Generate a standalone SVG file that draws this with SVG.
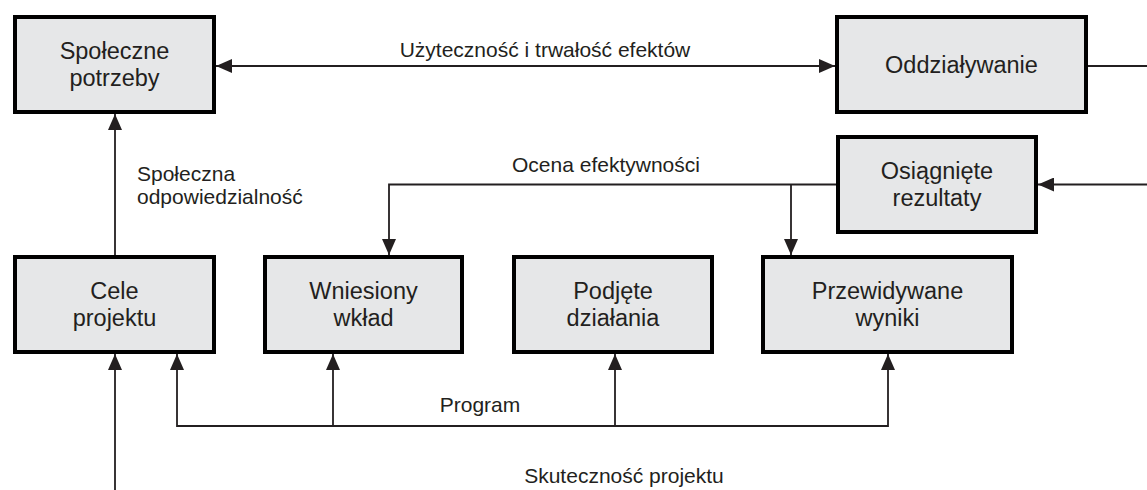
<svg xmlns="http://www.w3.org/2000/svg" width="1147" height="490" viewBox="0 0 1147 490">
<defs>
<marker id="arr" markerUnits="userSpaceOnUse" markerWidth="16" markerHeight="14" refX="16" refY="7" orient="auto-start-reverse">
<path d="M0,0 L16,7 L0,14 z" fill="#231f20"/>
</marker>
<style>
.box rect{fill:#e6e7e8;stroke:#000;stroke-width:4}
.box text{font-family:"Liberation Sans",Arial,sans-serif;font-size:23.5px;fill:#231f20;text-anchor:middle}
.lbl{font-family:"Liberation Sans",Arial,sans-serif;font-size:21px;fill:#231f20}
.c path{fill:none;stroke:#231f20;stroke-width:1.8}
</style>
</defs>
<rect width="1147" height="490" fill="#fff"/>
<g class="c" id="connectors">
<path d="M216,66 H835" marker-start="url(#arr)" marker-end="url(#arr)"/>
<path d="M1088,66 H1147"/>
<path d="M115,255 V114" marker-end="url(#arr)"/>
<path d="M115,490 V354" marker-end="url(#arr)"/>
<path d="M836,184.5 H389 V255" marker-end="url(#arr)"/>
<path d="M791,184.5 V255" marker-end="url(#arr)"/>
<path d="M1147,184.5 H1038" marker-end="url(#arr)"/>
<path d="M177,354 V426 H888 V354" marker-start="url(#arr)" marker-end="url(#arr)"/>
<path d="M333,426 V354" marker-end="url(#arr)"/>
<path d="M615,426 V354" marker-end="url(#arr)"/>
</g>
<g id="labels">
<text class="lbl" x="545" y="57" text-anchor="middle">Użyteczność i trwałość efektów</text>
<text class="lbl" x="606" y="172" text-anchor="middle">Ocena efektywności</text>
<text class="lbl" x="137" y="181">Społeczna</text>
<text class="lbl" x="137" y="204">odpowiedzialność</text>
<text class="lbl" x="480" y="412" text-anchor="middle">Program</text>
<text class="lbl" x="624" y="483" text-anchor="middle">Skuteczność projektu</text>
</g>
<g class="box" id="spoleczne-potrzeby">
<rect x="15" y="17" width="199" height="95"/>
<text x="114.5" y="59">Społeczne</text>
<text x="114.5" y="86">potrzeby</text>
</g>
<g class="box" id="oddzialywanie">
<rect x="837" y="17" width="249" height="95"/>
<text x="961.5" y="72.5">Oddziaływanie</text>
</g>
<g class="box" id="osiagniete-rezultaty">
<rect x="838" y="137" width="198" height="95"/>
<text x="937" y="179">Osiągnięte</text>
<text x="937" y="206">rezultaty</text>
</g>
<g class="box" id="cele-projektu">
<rect x="15" y="257" width="199" height="95"/>
<text x="114.5" y="299">Cele</text>
<text x="114.5" y="326">projektu</text>
</g>
<g class="box" id="wniesiony-wklad">
<rect x="265" y="257" width="197" height="95"/>
<text x="363.5" y="299">Wniesiony</text>
<text x="363.5" y="326">wkład</text>
</g>
<g class="box" id="podjete-dzialania">
<rect x="514" y="257" width="198" height="95"/>
<text x="613" y="299">Podjęte</text>
<text x="613" y="326">działania</text>
</g>
<g class="box" id="przewidywane-wyniki">
<rect x="763" y="257" width="249" height="95"/>
<text x="887.5" y="299">Przewidywane</text>
<text x="887.5" y="326">wyniki</text>
</g>
</svg>
